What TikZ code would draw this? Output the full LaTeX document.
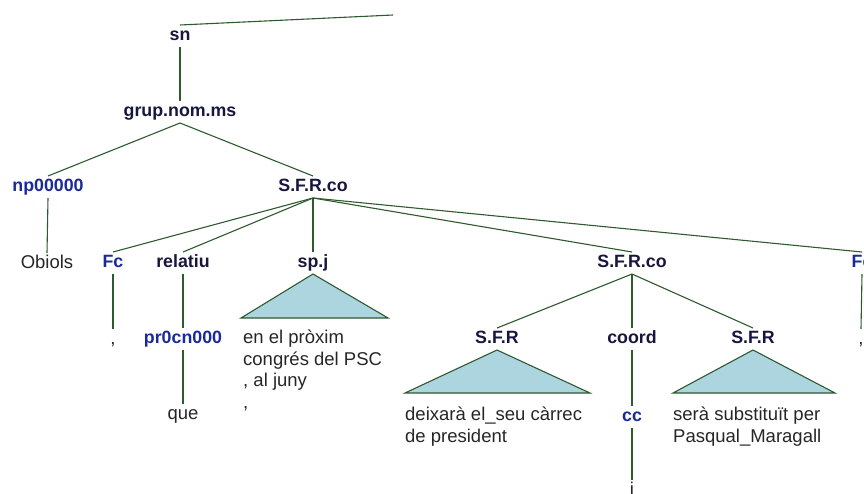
\documentclass[tikz,border=0pt]{standalone}
\usepackage{fontspec}
\setmainfont{Liberation Sans}
\definecolor{edgecol}{HTML}{2E5A2E}
\definecolor{labcol}{HTML}{16163E}
\definecolor{poscol}{HTML}{1A2A99}
\definecolor{wordcol}{HTML}{262626}
\definecolor{trifill}{HTML}{ADD5E0}
\tikzset{
  lab/.style={font=\fontsize{17.8}{20}\selectfont\bfseries, text=labcol, inner sep=0pt, outer sep=2.5pt, text height=13pt, text depth=4pt},
  postag/.style={lab, text=poscol},
  word/.style={font=\fontsize{18.5}{21.5}\selectfont, text=wordcol, inner sep=0pt, outer sep=2.5pt, text height=13pt, text depth=4pt},
  block/.style={font=\fontsize{18.5}{21.5}\selectfont, text=wordcol, inner sep=0pt, align=left, anchor=north west},
  conn/.style={draw=edgecol, line width=1.1pt},
  tri/.style={draw=edgecol, fill=trifill, line width=1.1pt, line join=miter}
}
\begin{document}
\begin{tikzpicture}[x=1pt,y=-1pt]
\useasboundingbox (0,0) rectangle (864,493);
% nodes
\node[lab] (sn) at (180,36) {sn};
\coordinate (top) at (393,15);
\node[lab] (gnm) at (180,112) {grup.nom.ms};
\node[postag] (np) at (48,187) {np00000};
\node[lab] (sfrco1) at (313,187) {S.F.R.co};
\node[word] (obiols) at (47,264) {Obiols};
\node[postag] (fc1) at (113,263) {Fc};
\node[lab] (rel) at (183,263) {relatiu};
\node[lab] (spj) at (313,263) {sp.j};
\node[lab] (sfrco2) at (632,263) {S.F.R.co};
\node[postag] (fc2) at (862,263) {Fc};
\node[word] (comma1) at (113,340) {,};
\node[postag] (pr) at (183,339) {pr0cn000};
\node[word] (que) at (183,415) {que};
\node[word] (comma2) at (861,340) {,};
\node[lab] (sfr1) at (497,339) {S.F.R};
\node[lab] (coord) at (632,339) {coord};
\node[lab] (sfr2) at (753,339) {S.F.R};
\node[postag] (cc) at (632,417) {cc};
\node[word] (i) at (632,491) {i};
% text blocks
\node[block] (tspj) at (243,328.5) {\strut en el pròxim\\congrés del PSC\\, al juny\\,};
\node[block] (tsfr1) at (405,405.5) {\strut deixarà el\_seu càrrec\\de president};
\node[block] (tsfr2) at (673,405.5) {\strut serà substituït per\\Pasqual\_Maragall};
% connectors
\draw[conn] (sn.north) -- (top);
\draw[conn] (sn.south) -- (gnm.north);
\draw[conn] (gnm.south) -- (np.north);
\draw[conn] (gnm.south) -- (sfrco1.north);
\draw[conn] (np.south) -- (obiols.north);
\draw[conn] (sfrco1.south) -- (fc1.north);
\draw[conn] (sfrco1.south) -- (rel.north);
\draw[conn] (sfrco1.south) -- (spj.north);
\draw[conn] (sfrco1.south) -- (sfrco2.north);
\draw[conn] (sfrco1.south) -- (fc2.north);
\draw[conn] (fc1.south) -- (comma1.north);
\draw[conn] (rel.south) -- (pr.north);
\draw[conn] (pr.south) -- (que.north);
\draw[conn] (fc2.south) -- (comma2.north);
\draw[conn] (sfrco2.south) -- (sfr1.north);
\draw[conn] (sfrco2.south) -- (coord.north);
\draw[conn] (sfrco2.south) -- (sfr2.north);
\draw[conn] (coord.south) -- (cc.north);
\draw[conn] (cc.south) -- (i.north);
% triangles
\draw[tri] (spj.south) -- ++(-72,44) -- ++(147,0) -- cycle;
\draw[tri] (sfr1.south) -- ++(-92,43) -- ++(185,0) -- cycle;
\draw[tri] (sfr2.south) -- ++(-80,43) -- ++(162,0) -- cycle;
\end{tikzpicture}
\end{document}
